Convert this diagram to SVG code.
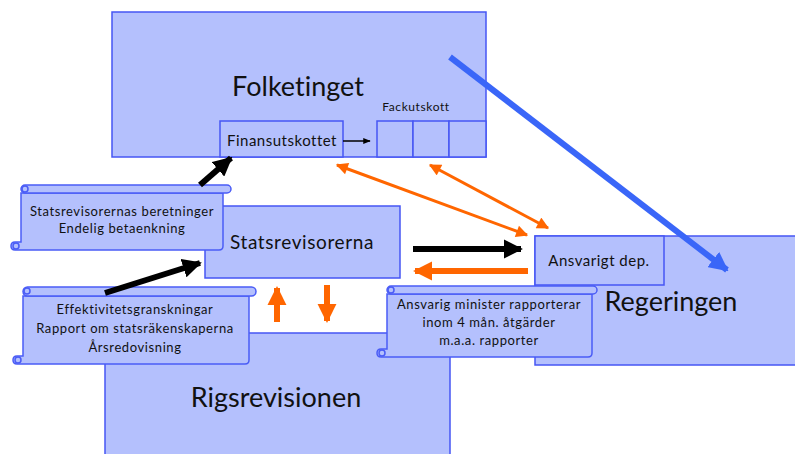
<svg xmlns="http://www.w3.org/2000/svg" width="795" height="454" viewBox="0 0 795 454">
<style>
.box{fill:#b4c0fd;stroke:#4656f4;stroke-width:1.5}
.scroll{fill:#b4c0fd;stroke:#4a5cf6;stroke-width:1.5}
text{font-family:Lato,"Open Sans","Liberation Sans",sans-serif;fill:#111;text-anchor:middle;font-variant-ligatures:none}
.t{font-size:13px;letter-spacing:0.6px}
.big{font-size:27px}
.mid{font-size:19px;letter-spacing:0.6px}
.blk{stroke:#000;stroke-width:6;fill:none}
.org{stroke:#ff6600;stroke-width:6;fill:none}
.org2{stroke:#ff6600;stroke-width:3;fill:none}
.blu{stroke:#3a66f8;stroke-width:6;fill:none}
</style>
<defs>
<marker id="hb" viewBox="0 0 10 10" refX="9" refY="5" markerWidth="3.2" markerHeight="3.2" orient="auto" markerUnits="strokeWidth"><path d="M0,0 L10,5 L0,10 z" fill="#000"/></marker>
<marker id="ho" viewBox="0 0 10 10" refX="9" refY="5" markerWidth="3.2" markerHeight="3.2" orient="auto" markerUnits="strokeWidth"><path d="M0,0 L10,5 L0,10 z" fill="#ff6600"/></marker>
<marker id="hu" viewBox="0 0 10 10" refX="9" refY="5" markerWidth="3.2" markerHeight="3.2" orient="auto" markerUnits="strokeWidth"><path d="M0,0 L10,5 L0,10 z" fill="#3a66f8"/></marker>
<marker id="ho2" viewBox="0 0 10 10" refX="9" refY="5" markerWidth="4.5" markerHeight="4" orient="auto-start-reverse" markerUnits="strokeWidth"><path d="M0,0 L10,5 L0,10 z" fill="#ff6600"/></marker>
<marker id="hs" viewBox="0 0 10 10" refX="9" refY="5" markerWidth="5" markerHeight="5" orient="auto" markerUnits="strokeWidth"><path d="M0,1 L10,5 L0,9 z" fill="#000"/></marker>
</defs>

<g id="folketinget">
<rect class="box" x="112" y="12" width="374" height="145"/>
<text class="big" x="298" y="96">Folketinget</text>
</g>
<g id="finansutskottet">
<rect class="box" x="220" y="121" width="123" height="36"/>
<text x="282" y="146" style="font-size:15px;letter-spacing:0.5px">Finansutskottet</text>
</g>
<g id="fackutskott">
<text x="416" y="111" style="font-size:12px;letter-spacing:0.6px">Fackutskott</text>
<rect class="box" x="377" y="121" width="36" height="36"/>
<rect class="box" x="413" y="121" width="36" height="36"/>
<rect class="box" x="449" y="121" width="37" height="36"/>
</g>
<g id="regeringen">
<rect class="box" x="535" y="236" width="265" height="129"/>
<text class="big" x="671" y="311">Regeringen</text>
</g>
<g id="ansvarigt-dep">
<rect class="box" x="535" y="236" width="129" height="49"/>
<text x="599" y="266" style="font-size:15px;letter-spacing:0.5px">Ansvarigt dep.</text>
</g>
<g id="statsrevisorerna">
<rect class="box" x="205" y="206" width="195" height="72"/>
<text class="mid" x="302" y="249">Statsrevisorerna</text>
</g>
<g id="rigsrevisionen">
<rect class="box" x="105" y="333" width="345" height="130"/>
<text class="big" x="276" y="407">Rigsrevisionen</text>
</g>

<g id="scroll-statsrevisorernas">
<path class="scroll" d="M21,193 H223 V246 Q223,250 219,250 H15 Q11,250 11,246 Q11,242 15,242 H21 Z"/>
<rect class="scroll" x="21" y="185" width="210" height="8" rx="4"/>
<circle class="scroll" cx="25" cy="189" r="3"/>
<circle class="scroll" cx="16" cy="246" r="3"/>
<text class="t" x="122" y="216">Statsrevisorernas beretninger</text>
<text class="t" x="122" y="233">Endelig betaenkning</text>
</g>
<g id="scroll-effektivitet">
<path class="scroll" d="M23,296 H249 V360 Q249,364 245,364 H17 Q13,364 13,360 Q13,356 17,356 H23 Z"/>
<rect class="scroll" x="23" y="287" width="233" height="9" rx="4.5"/>
<circle class="scroll" cx="27" cy="291" r="3"/>
<circle class="scroll" cx="18" cy="360" r="3"/>
<text class="t" x="135" y="314">Effektivitetsgranskningar</text>
<text class="t" x="135" y="333">Rapport om statsräkenskaperna</text>
<text class="t" x="135" y="352">Årsredovisning</text>
</g>
<g id="scroll-minister">
<path class="scroll" d="M387,294 H592 V353 Q592,357 588,357 H381 Q377,357 377,353 Q377,349 381,349 H387 Z"/>
<rect class="scroll" x="387" y="286" width="210" height="8" rx="4"/>
<circle class="scroll" cx="391" cy="290" r="3"/>
<circle class="scroll" cx="382" cy="353" r="3"/>
<text class="t" x="489" y="309">Ansvarig minister rapporterar</text>
<text class="t" x="489" y="327">inom 4 mån. åtgärder</text>
<text class="t" x="489" y="345">m.a.a. rapporter</text>
</g>

<g id="connectors">
<line x1="343" y1="141" x2="370" y2="141" stroke="#000" stroke-width="1.5" marker-end="url(#hs)"/>
<line class="blk" x1="200" y1="185" x2="231" y2="158" marker-end="url(#hb)"/>
<line class="blk" x1="105" y1="293" x2="200" y2="263" marker-end="url(#hb)"/>
<line class="blk" x1="413" y1="249" x2="521" y2="249" marker-end="url(#hb)"/>
<line class="org" x1="528" y1="271" x2="415" y2="271" marker-end="url(#ho)"/>
<line class="org" x1="277" y1="322" x2="277" y2="288" marker-end="url(#ho)"/>
<line class="org" x1="327" y1="285" x2="327" y2="321" marker-end="url(#ho)"/>
<line class="org2" x1="337" y1="165" x2="527" y2="235" marker-start="url(#ho2)" marker-end="url(#ho2)"/>
<line class="org2" x1="430" y1="165" x2="548" y2="228" marker-start="url(#ho2)" marker-end="url(#ho2)"/>
<line class="blu" x1="450" y1="57" x2="727" y2="270" marker-end="url(#hu)"/>
</g>
</svg>
